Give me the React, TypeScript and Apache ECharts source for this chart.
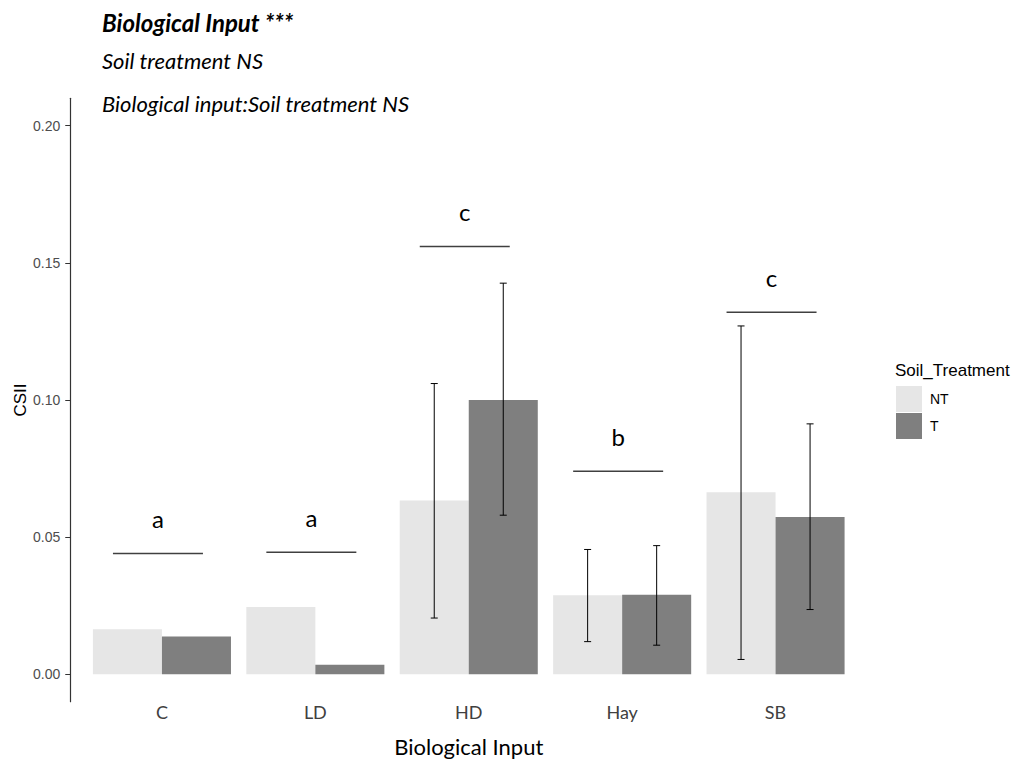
import React, { useEffect, useRef } from "react";
import * as echarts from "echarts";

const categories = ["C", "LD", "HD", "Hay", "SB"];
const ntValues = [0.0164, 0.0245, 0.0634, 0.0288, 0.0664];
const tValues = [0.0138, 0.0035, 0.1, 0.029, 0.0573];
const ntLow: (number | null)[] = [null, null, 0.0205, 0.0119, 0.0054];
const ntHigh: (number | null)[] = [null, null, 0.106, 0.0455, 0.127];
const tLow: (number | null)[] = [null, null, 0.058, 0.0106, 0.0236];
const tHigh: (number | null)[] = [null, null, 0.1426, 0.0469, 0.0913];
const sigLetters = ["a", "a", "c", "b", "c"];
const sigY = [0.044, 0.0445, 0.156, 0.074, 0.132];
const yTicks = [0, 0.05, 0.1, 0.15, 0.2];
const titleLines = [
  "Biological Input ***",
  "Soil treatment NS",
  "Biological input:Soil treatment NS",
];

const LATO = "Lato, 'Open Sans', sans-serif";
const ARIAL = "'Liberation Sans', Arial, sans-serif";

function errData(low: (number | null)[], high: (number | null)[]) {
  const out: number[][] = [];
  low.forEach((l, i) => {
    const h = high[i];
    if (l != null && h != null) out.push([i, l, h]);
  });
  return out;
}

function errSeries(name: string, low: (number | null)[], high: (number | null)[], sign: number) {
  return {
    type: "custom",
    name: name + "_err",
    coordinateSystem: "cartesian2d",
    z: 5,
    encode: { x: 0, y: [1, 2] },
    data: errData(low, high),
    renderItem: (params: any, api: any) => {
      const idx = api.value(0);
      const lo = api.coord([idx, api.value(1)]);
      const hi = api.coord([idx, api.value(2)]);
      const bw = api.size([1, 0])[0];
      const x = lo[0] + sign * bw * 0.225;
      const cap = 3.5;
      const st = { stroke: "#000", lineWidth: 1 };
      return {
        type: "group",
        children: [
          { type: "line", shape: { x1: x, y1: hi[1], x2: x, y2: lo[1] }, style: st },
          { type: "line", shape: { x1: x - cap, y1: hi[1], x2: x + cap, y2: hi[1] }, style: st },
          { type: "line", shape: { x1: x - cap, y1: lo[1], x2: x + cap, y2: lo[1] }, style: st },
        ],
      };
    },
  };
}

export default function App() {
  const ref = useRef<HTMLDivElement>(null);
  useEffect(() => {
    if (!ref.current) return;
    const chart = echarts.init(ref.current, null, { renderer: "svg" });
    const titleY = [22, 60, 103];
    const option: any = {
      animation: false,
      backgroundColor: "#fff",
      grid: {
        left: 85.25,
        right: 163.75,
        top: 98.3,
        bottom: 61.3,
        containLabel: false,
        outerBoundsMode: "none",
      },
      legend: {
        data: ["NT", "T"],
        orient: "vertical",
        left: 896,
        top: 386,
        padding: 0,
        itemWidth: 26,
        itemHeight: 26,
        itemGap: 1,
        icon: "rect",
        textStyle: { fontFamily: ARIAL, fontSize: 14, color: "#000", padding: [0, 0, 0, 3] },
      },
      graphic: [
        ...titleLines.map((t, i) => ({
          type: "text",
          x: 102,
          y: titleY[i],
          style: {
            text: t,
            font: (i === 0 ? "italic bold 24px " : "italic 22px ") + LATO,
            fill: "#000",
            verticalAlign: "middle",
          },
        })),
        {
          type: "text",
          x: 895,
          y: 370,
          style: {
            text: "Soil_Treatment",
            font: "17px " + ARIAL,
            fill: "#000",
            verticalAlign: "middle",
          },
        },
        {
          type: "text",
          x: 20,
          y: 400,
          rotation: Math.PI / 2,
          style: {
            text: "CSII",
            font: "17px " + ARIAL,
            fill: "#000",
            align: "center",
            verticalAlign: "middle",
          },
        },
      ],
      xAxis: {
        type: "category",
        data: categories,
        axisLine: { show: false, onZero: false },
        axisTick: { show: false },
        axisLabel: { margin: 1, fontFamily: LATO, fontSize: 18, color: "#404040" },
        name: "Biological Input",
        nameLocation: "middle",
        nameGap: 34,
        nameMoveOverlap: false,
        nameTextStyle: { fontFamily: LATO, fontSize: 22, color: "#000" },
      },
      yAxis: {
        type: "value",
        min: -0.01,
        max: 0.21,
        offset: 15,
        splitLine: { show: false },
        axisLine: { show: true, lineStyle: { color: "#333", width: 1.2 } },
        axisTick: { show: true, length: 5, customValues: yTicks, lineStyle: { color: "#333" } },
        axisLabel: {
          customValues: yTicks,
          margin: 10,
          fontFamily: ARIAL,
          fontSize: 14,
          color: "#4d4d4d",
          formatter: (v: number) => v.toFixed(2),
        },
      },
      series: [
        {
          type: "bar",
          name: "NT",
          data: ntValues,
          barWidth: "45%",
          barGap: "0%",
          itemStyle: { color: "#e6e6e6" },
        },
        {
          type: "bar",
          name: "T",
          data: tValues,
          barWidth: "45%",
          barGap: "0%",
          itemStyle: { color: "#7f7f7f" },
        },
        errSeries("NT", ntLow, ntHigh, -1),
        errSeries("T", tLow, tHigh, 1),
        {
          type: "custom",
          name: "sig",
          coordinateSystem: "cartesian2d",
          z: 6,
          encode: { x: 0, y: 1 },
          data: sigY.map((y, i) => [i, y]),
          renderItem: (params: any, api: any) => {
            const p = api.coord([api.value(0), api.value(1)]);
            const half = 45;
            return {
              type: "group",
              children: [
                {
                  type: "line",
                  shape: { x1: p[0] - half - 4, y1: p[1], x2: p[0] + half - 4, y2: p[1] },
                  style: { stroke: "#404040", lineWidth: 1.5 },
                },
                {
                  type: "text",
                  x: p[0] - 4,
                  y: p[1] - 23,
                  style: {
                    text: sigLetters[params.dataIndex],
                    font: "24px " + LATO,
                    fill: "#000",
                    align: "center",
                    verticalAlign: "bottom",
                  },
                },
              ],
            };
          },
        },
      ],
    };
    chart.setOption(option);
    return () => chart.dispose();
  }, []);
  return (
    <div
      ref={ref}
      style={{ position: "absolute", left: 0, top: 0, width: 1016, height: 763 }}
    />
  );
}
